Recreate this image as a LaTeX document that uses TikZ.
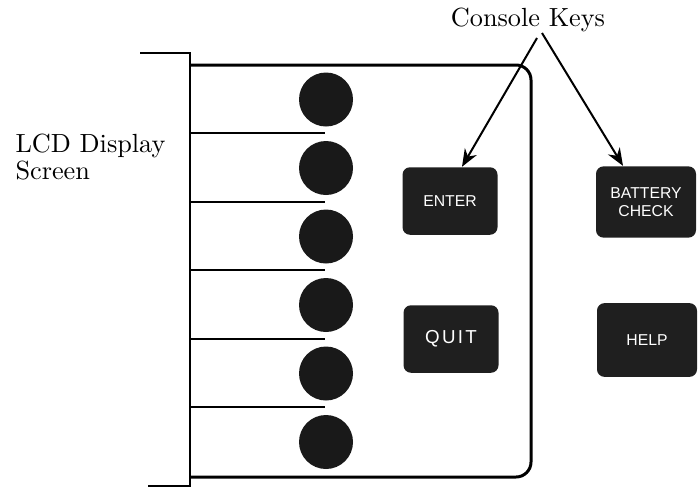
\documentclass[tikz,border=0pt]{standalone}
\usepackage{fontspec}
\newfontfamily\keyfont{Liberation Sans}
\usetikzlibrary{positioning,arrows.meta}

\tikzset{
  key/.style={fill=black!88, rounded corners=3pt, text=white, align=center,
    font=\keyfont\fontsize{6.3}{7.2}\selectfont, inner sep=0pt,
    minimum width=38pt, minimum height=27pt},
  widekey/.style={key, minimum width=40pt, minimum height=28.5pt},
  button/.style={circle, fill=black!90, minimum size=21.6pt, inner sep=0pt},
  label/.style={font=\fontsize{10.5}{10.8}\selectfont, inner sep=0pt},
  pointer/.style={-{Stealth[length=7pt,width=5.5pt]}, line width=0.8pt},
}

\begin{document}
\begin{tikzpicture}[x=0.4pt, y=-0.4pt]
  \useasboundingbox (0,0) rectangle (699,487);

  % bracket and panel outline
  \draw[line width=1pt] (140,53) -- (190,53) -- (190,486) -- (148,486);
  \draw[line width=1.2pt, rounded corners=6pt] (190,65) -- (531,65) -- (531,477) -- (190,477);

  % buttons beside the screen
  \foreach \i in {0,...,5}{
    \node[button] (b\i) at (326, 99.5+68.5*\i) {};
  }
  \foreach \i in {1,...,5}{
    \draw[line width=0.8pt] (190, 64.5+68.5*\i) -- (325, 64.5+68.5*\i);
  }

  % console keys
  \node[key] (enter) at (450,201) {ENTER};
  \node[widekey] (battery) at (646,202) {BATTERY\\CHECK};
  \node[key, font=\keyfont\fontsize{7.5}{8}\selectfont\addfontfeature{LetterSpace=12}] (quit) at (451,339) {QUIT};
  \node[widekey, minimum height=29.5pt] (help) at (647,340) {HELP};

  % labels
  \node[label] (ck) at (528,20) {Console Keys};
  \node[label, anchor=north west, align=left] (lcd) at (15,133) {LCD Display\\Screen};

  \coordinate (ckl) at (537,38);
  \coordinate (ckr) at (542,33);
  \draw[pointer] (ckl) -- ([xshift=4.8pt]enter.north);
  \draw[pointer] (ckr) -- ([xshift=-9.2pt]battery.north);
\end{tikzpicture}
\end{document}
